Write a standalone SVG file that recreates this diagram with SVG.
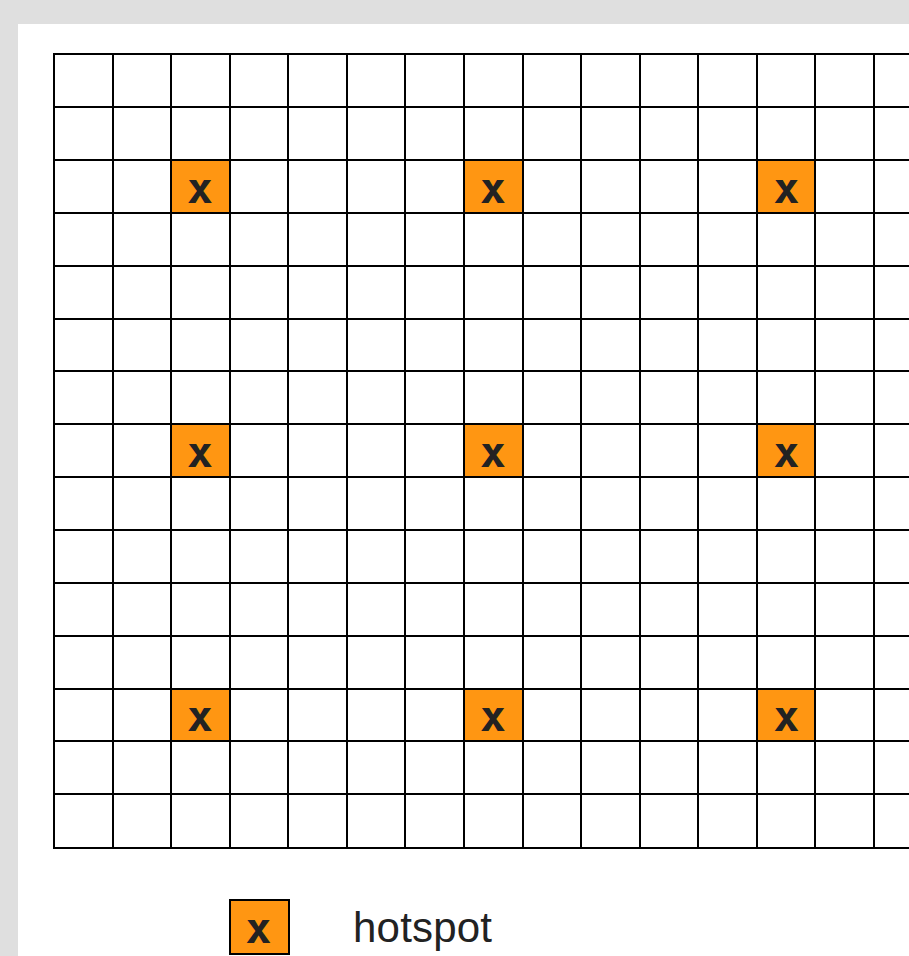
<svg xmlns="http://www.w3.org/2000/svg" width="909" height="956" viewBox="0 0 909 956">
<style>
.hs{fill:#ff9612}
.gl{stroke:#000;stroke-width:2;fill:none}
.x{font-family:"DejaVu Sans Mono","Liberation Mono",monospace;font-weight:bold;font-size:43px;fill:#222;text-anchor:middle}
.lbl{font-family:"Liberation Sans",Arial,sans-serif;font-size:42px;fill:#222}
</style>
<rect x="0" y="0" width="909" height="956" fill="#dfdfdf"/>
<rect x="18" y="24" width="891" height="932" fill="#fff"/>
<g id="hotspots">
<g id="h1"><rect class="hs" x="171" y="160" width="59" height="53"/><text class="x" x="200" y="203">x</text></g>
<g id="h2"><rect class="hs" x="464" y="160" width="59" height="53"/><text class="x" x="493" y="203">x</text></g>
<g id="h3"><rect class="hs" x="757" y="160" width="58" height="53"/><text class="x" x="786.5" y="203">x</text></g>
<g id="h4"><rect class="hs" x="171" y="424" width="59" height="53"/><text class="x" x="200" y="467">x</text></g>
<g id="h5"><rect class="hs" x="464" y="424" width="59" height="53"/><text class="x" x="493" y="467">x</text></g>
<g id="h6"><rect class="hs" x="757" y="424" width="58" height="53"/><text class="x" x="786.5" y="467">x</text></g>
<g id="h7"><rect class="hs" x="171" y="689" width="59" height="52"/><text class="x" x="200" y="731">x</text></g>
<g id="h8"><rect class="hs" x="464" y="689" width="59" height="52"/><text class="x" x="493" y="731">x</text></g>
<g id="h9"><rect class="hs" x="757" y="689" width="58" height="52"/><text class="x" x="786.5" y="731">x</text></g>
</g>
<g id="grid" class="gl">
<path d="M54,53V849M113,53V849M171,53V849M230,53V849M288,53V849M347,53V849M405,53V849M464,53V849M523,53V849M581,53V849M640,53V849M698,53V849M757,53V849M815,53V849M874,53V849"/>
<path d="M53,54H910M53,107H910M53,160H910M53,213H910M53,266H910M53,319H910M53,371H910M53,424H910M53,477H910M53,530H910M53,583H910M53,636H910M53,689H910M53,741H910M53,794H910M53,848H910"/>
</g>
<g id="legend">
<rect x="230" y="900" width="59" height="54" fill="#ff9612" stroke="#000" stroke-width="2"/>
<text class="x" x="258.5" y="943">x</text>
<text class="lbl" x="353" y="942" textLength="139">hotspot</text>
</g>
</svg>
